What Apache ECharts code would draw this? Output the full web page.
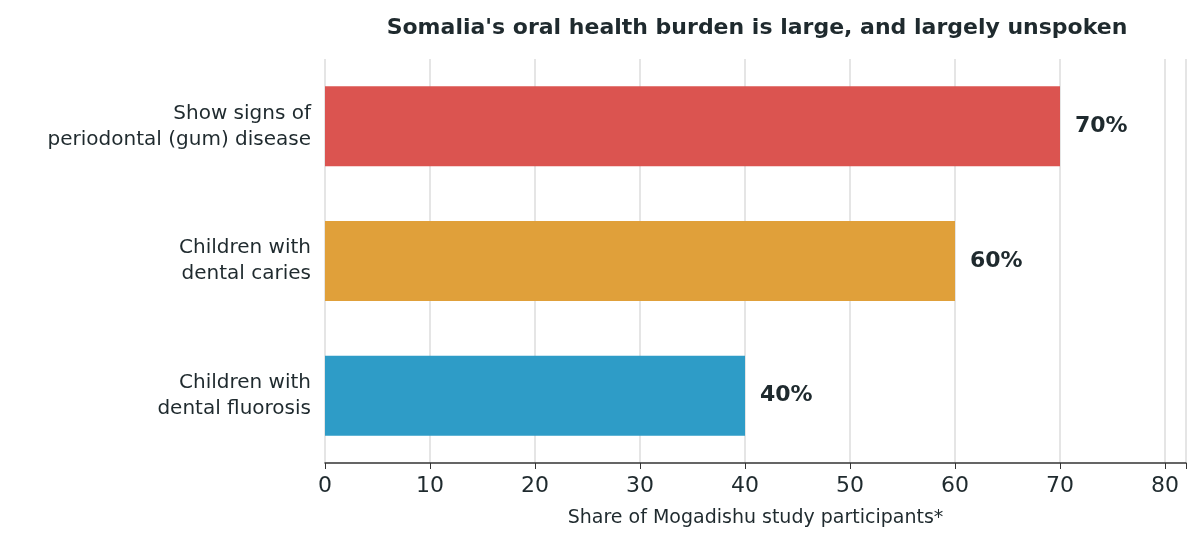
<!DOCTYPE html>
<html>
<head>
<meta charset="utf-8">
<script src="https://cdn.jsdelivr.net/npm/echarts@6/dist/echarts.min.js"></script>
<style>html,body{margin:0;padding:0;background:#fff}#chart{width:1200px;height:545px}</style>
</head>
<body>
<div id="chart"></div>
<script>
// bottom to top
var categories = ['Children with\ndental fluorosis', 'Children with\ndental caries', 'Show signs of\nperiodontal (gum) disease'];
var values = [40, 60, 70];
var colors = ['#2e9cc7', '#e0a03a', '#db5450'];

var chart = echarts.init(document.getElementById('chart'));
var ink = '#1f2a2e';
chart.setOption({
    animation: false,
    title: {
        text: "Somalia's oral health burden is large, and largely unspoken",
        left: 752, top: 12, textAlign: 'center',
        textStyle: {fontFamily: 'DejaVu Sans', fontSize: 22, fontWeight: 'bold', color: ink}
    },
    grid: {left: 325, right: 14, top: 59, bottom: 82},
    xAxis: {
        type: 'value', min: 0, max: 82, interval: 10,
        name: 'Share of Mogadishu study participants*',
        nameLocation: 'middle', nameGap: 46,
        nameTextStyle: {fontFamily: 'DejaVu Sans', fontSize: 19, color: ink},
        axisLine: {show: true, lineStyle: {color: '#333', width: 1.5}},
        axisTick: {show: true, length: 6, lineStyle: {color: '#333'}},
        axisLabel: {fontFamily: 'DejaVu Sans', fontSize: 22, color: ink, margin: 12,
            formatter: function (v) { return v % 10 === 0 ? v : ''; }},
        splitLine: {show: true, lineStyle: {color: '#dddddd', width: 1.5}}
    },
    yAxis: {
        type: 'category', data: categories,
        axisLine: {show: false}, axisTick: {show: false},
        axisLabel: {fontFamily: 'DejaVu Sans', fontSize: 20, color: ink, margin: 14, lineHeight: 26, align: 'right'}
    },
    series: [{
        type: 'bar', barWidth: 80,
        data: values.map(function (v, i) { return {value: v, itemStyle: {color: colors[i]}}; }),
        label: {show: true, position: 'right', distance: 15, formatter: '{c}%',
            fontFamily: 'DejaVu Sans', fontSize: 22, fontWeight: 'bold', color: ink}
    }]
});
</script>
</body>
</html>
